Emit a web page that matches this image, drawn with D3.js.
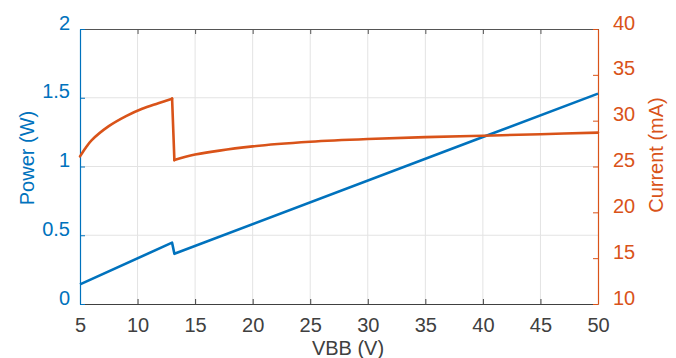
<!DOCTYPE html>
<html>
<head>
<meta charset="utf-8">
<script src="https://cdn.jsdelivr.net/npm/d3@7"></script>
<style>
  body { margin: 0; background: #fff; }
  text { font-family: "Liberation Sans", Arial, sans-serif; }
</style>
</head>
<body>
<div class="chart"></div>
<script>
// values
const vbbPower = [5, 13, 13.2, 40, 50];
const power = [0.143, 0.446, 0.365, 1.214, 1.53];

const vbbCurrent = [5, 5.5, 6, 7.5, 9, 10.4, 11.8, 13, 13.2, 15, 20, 25, 30, 35, 40, 45, 50];
const current = [26.1, 27.05, 27.85, 29.4, 30.5, 31.3, 31.9, 32.4, 25.7, 26.3, 27.2, 27.7, 28.0, 28.2, 28.36, 28.52, 28.7];
const dropIndex = 8; // first point after the jump

const xTicks = [5, 10, 15, 20, 25, 30, 35, 40, 45, 50];
const powerTicks = [0, 0.5, 1, 1.5, 2];
const currentTicks = [10, 15, 20, 25, 30, 35, 40];

const blue = '#0072BD', orange = '#D95319', gray = '#404040';

const margin = {top: 29, bottom: 54, left: 80, right: 78};
const W = 676, H = 358;
const width = W - margin.left - margin.right,
      height = H - margin.top - margin.bottom;

const xScale = d3.scaleLinear().domain([5, 50]).range([0, width]);
const yPower = d3.scaleLinear().domain([0, 2]).range([height, 0]);
const yCurrent = d3.scaleLinear().domain([10, 40]).range([height, 0]);

const svg = d3.select('.chart').append('svg')
    .attr('width', W)
    .attr('height', H)
  .append('g')
    .attr('transform', `translate(${margin.left},${margin.top})`);

// grid
svg.append('g').selectAll('line')
    .data(xTicks.slice(1, -1))
    .enter().append('line')
    .attr('x1', d => xScale(d)).attr('x2', d => xScale(d))
    .attr('y1', 0).attr('y2', height)
    .attr('stroke', '#e3e3e3');
svg.append('g').selectAll('line')
    .data(powerTicks.slice(1, -1))
    .enter().append('line')
    .attr('y1', d => yPower(d)).attr('y2', d => yPower(d))
    .attr('x1', 0).attr('x2', width)
    .attr('stroke', '#e3e3e3');

// axes
const xAxis = d3.axisBottom(xScale).tickValues(xTicks).tickSizeInner(-5).tickSizeOuter(0).tickPadding(14).tickFormat(d => d);
const xAxisTop = d3.axisTop(xScale).tickValues(xTicks).tickSizeInner(-5).tickSizeOuter(0).tickFormat('');
const yAxisL = d3.axisLeft(yPower).tickValues(powerTicks).tickSizeInner(-5).tickSizeOuter(0).tickFormat(d => d);
const yAxisR = d3.axisRight(yCurrent).tickValues(currentTicks).tickSizeInner(-5).tickSizeOuter(0).tickFormat(d => d);

const gx = svg.append('g').attr('transform', `translate(0,${height})`).call(xAxis);
gx.selectAll('path, line').attr('stroke', gray);
gx.selectAll('text').attr('fill', gray).attr('font-size', 20).attr('dy', '0.71em');

const gt = svg.append('g').call(xAxisTop);
gt.selectAll('path, line').attr('stroke', '#555');

const gl = svg.append('g').call(yAxisL);
gl.selectAll('path, line').attr('stroke', blue);
gl.selectAll('text').attr('fill', blue).attr('font-size', 20).attr('dy', 0).attr('x', -10);

const gr = svg.append('g').attr('transform', `translate(${width},0)`).call(yAxisR);
gr.selectAll('path, line').attr('stroke', orange);
gr.selectAll('text').attr('fill', orange).attr('font-size', 20).attr('dy', 0).attr('x', 15);

svg.selectAll('.domain').attr('stroke-width', 1.2);

// lines
const powerLine = d3.line()
    .x((d, i) => xScale(vbbPower[i]))
    .y(d => yPower(d));
svg.append('path')
    .datum(power)
    .attr('d', powerLine)
    .attr('fill', 'none')
    .attr('stroke', blue)
    .attr('stroke-width', 2.6)
    .attr('stroke-linejoin', 'round');

// current: smooth pieces either side of the jump, straight drop between
const pts = vbbCurrent.map((v, i) => [xScale(v), yCurrent(current[i])]);
const smooth = d3.line().curve(d3.curveCatmullRom.alpha(0.5));
const straight = d3.line();
[
  smooth(pts.slice(0, dropIndex)),
  straight(pts.slice(dropIndex - 1, dropIndex + 1)),
  smooth(pts.slice(dropIndex))
].forEach(d => {
  svg.append('path')
      .attr('d', d)
      .attr('fill', 'none')
      .attr('stroke', orange)
      .attr('stroke-width', 2.6)
      .attr('stroke-linejoin', 'round')
      .attr('stroke-linecap', 'round');
});

// labels
svg.append('text')
    .attr('x', 348 - margin.left)
    .attr('y', 355 - margin.top)
    .attr('text-anchor', 'middle')
    .attr('font-size', 20)
    .attr('fill', gray)
    .text('VBB (V)');

svg.append('text')
    .attr('transform', `translate(${34 - margin.left},${158 - margin.top}) rotate(-90)`)
    .attr('text-anchor', 'middle')
    .attr('font-size', 20)
    .attr('fill', blue)
    .text('Power (W)');

svg.append('text')
    .attr('transform', `translate(${649 - margin.left},${155 - margin.top}) rotate(-90)`)
    .attr('text-anchor', 'middle')
    .attr('dy', '0.71em')
    .attr('font-size', 20)
    .attr('fill', orange)
    .text('Current (mA)');
</script>
</body>
</html>
